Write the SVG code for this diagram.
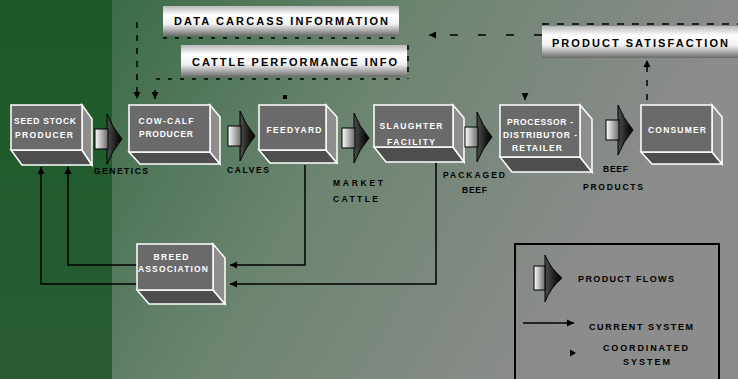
<svg xmlns="http://www.w3.org/2000/svg" width="738" height="379" viewBox="0 0 738 379">
<defs>
<linearGradient id="bgMain" gradientUnits="userSpaceOnUse" x1="112" y1="0" x2="580" y2="280">
<stop offset="0" stop-color="#3b6c47"/><stop offset="0.5" stop-color="#6d8571"/><stop offset="1" stop-color="#8b8c8b"/>
</linearGradient>
<linearGradient id="bgLeft" x1="0" y1="0" x2="0" y2="1">
<stop offset="0" stop-color="#1b5a27"/><stop offset="1" stop-color="#2a5c34"/>
</linearGradient>
<linearGradient id="bar" x1="0" y1="0" x2="0" y2="1">
<stop offset="0" stop-color="#b8b8b8"/><stop offset="0.3" stop-color="#ffffff"/><stop offset="0.6" stop-color="#f2f2f2"/><stop offset="1" stop-color="#6a6a6a"/>
</linearGradient>
<linearGradient id="fbox" x1="0" y1="0" x2="1" y2="0">
<stop offset="0" stop-color="#ffffff"/><stop offset="1" stop-color="#6a6a6a"/>
</linearGradient>
<linearGradient id="fhead" x1="0" y1="0" x2="1" y2="0">
<stop offset="0" stop-color="#505050"/><stop offset="0.6" stop-color="#1a1a1a"/><stop offset="1" stop-color="#000000"/>
</linearGradient>
<marker id="ah" markerUnits="userSpaceOnUse" markerWidth="8" markerHeight="8" refX="7" refY="4" orient="auto">
<path d="M0,0.5 L7,4 L0,7.5 Z" fill="#000"/>
</marker>
<g id="flow">
<path d="M12,-25 Q17,-12 27,0 Q17,12 12,25 Z" fill="url(#fhead)" stroke="#000" stroke-width="1"/>
<rect x="0" y="-10" width="13" height="20" fill="url(#fbox)" stroke="#000" stroke-width="1"/>
</g>
</defs>
<style>
.front{fill:#6a6a6a;stroke:#fff;stroke-width:1.5}
.side{fill:#8e8e8e;stroke:#fff;stroke-width:1.5}
.bot{fill:#4e4e4e;stroke:#fff;stroke-width:1.5}
.nt{font-family:"Liberation Sans",Arial,sans-serif;font-weight:bold;font-size:8.5px;fill:#fff;text-anchor:middle}
.lb{font-family:"Liberation Sans",Arial,sans-serif;font-weight:bold;font-size:8.5px;fill:#000}
.bt{font-family:"Liberation Sans",Arial,sans-serif;font-weight:bold;font-size:11px;fill:#000}
.lg{font-family:"Liberation Sans",Arial,sans-serif;font-weight:bold;font-size:9px;fill:#000}
.solid{fill:none;stroke:#000;stroke-width:1.5}
.dash{fill:none;stroke:#000;stroke-width:1.5}
.barr{fill:url(#bar)}
</style>
<rect x="0" y="0" width="738" height="379" fill="url(#bgMain)"/>
<rect x="0" y="0" width="112" height="379" fill="url(#bgLeft)"/>

<g id="connectors">
<path class="solid" d="M305,165 V265 H230" marker-end="url(#ah)"/>
<path class="solid" d="M436,162 V284 H230" marker-end="url(#ah)"/>
<path class="solid" d="M137,265 H68 V167" marker-end="url(#ah)"/>
<path class="solid" d="M137,284 H41 V167" marker-end="url(#ah)"/>
<path class="dash" d="M542,35 H429" stroke-dasharray="8 20" marker-end="url(#ah)"/>
<path class="dash" d="M542,24 H738" stroke-dasharray="7 8"/>
<path class="dash" d="M647,100 V60" stroke-dasharray="6 8" marker-end="url(#ah)"/>
<path class="dash" d="M163,38 H400" stroke-dasharray="4 8"/>
<path class="dash" d="M156,79 H408" stroke-dasharray="4 8"/>
<path class="dash" d="M408,45 V79" stroke-dasharray="5 6"/>
<path class="dash" d="M137,22 V99" stroke-dasharray="6 7" marker-end="url(#ah)"/>
<path class="dash" d="M155,90 V99" marker-end="url(#ah)"/>
<path class="dash" d="M525,93 V100" marker-end="url(#ah)"/>
<rect x="283" y="95" width="4" height="4" fill="#000"/>
</g>

<g id="bar-data">
<rect class="barr" x="163" y="6" width="236" height="30"/>
<text class="bt" x="174" y="25" textLength="214">DATA CARCASS INFORMATION</text>
</g>
<g id="bar-cattle">
<rect class="barr" x="181" y="45" width="226" height="32"/>
<text class="bt" x="192" y="66" textLength="205">CATTLE PERFORMANCE INFO</text>
</g>
<g id="bar-satisfaction">
<rect class="barr" x="542" y="26" width="200" height="32"/>
<text class="bt" x="552" y="47" textLength="176">PRODUCT SATISFACTION</text>
</g>

<g id="seed-stock">
<polygon class="bot" points="11,150 82,150 92,165 22,165"/>
<polygon class="side" points="82,105 92,119 92,165 82,150"/>
<rect class="front" x="11" y="105" width="71" height="45"/>
<text class="nt" x="45" y="124" textLength="62">SEED STOCK</text>
<text class="nt" x="44" y="138" textLength="58">PRODUCER</text>
</g>
<g id="cow-calf">
<polygon class="bot" points="129,152 210,152 220,164 140,164"/>
<polygon class="side" points="210,105 220,117 220,164 210,152"/>
<rect class="front" x="129" y="105" width="81" height="47"/>
<text class="nt" x="166" y="124" textLength="55">COW-CALF</text>
<text class="nt" x="166" y="137" textLength="54">PRODUCER</text>
</g>
<g id="feedyard">
<polygon class="bot" points="259,150 326,150 337,163 270,163"/>
<polygon class="side" points="326,105 337,117 337,163 326,150"/>
<rect class="front" x="259" y="105" width="67" height="45"/>
<text class="nt" x="294" y="133" textLength="55">FEEDYARD</text>
</g>
<g id="slaughter">
<polygon class="bot" points="374,147 453,147 464,162 386,162"/>
<polygon class="side" points="453,105 464,118 464,162 453,147"/>
<rect class="front" x="374" y="105" width="79" height="42"/>
<text class="nt" x="411" y="129" textLength="63">SLAUGHTER</text>
<text class="nt" x="411" y="144.5" textLength="48">FACILITY</text>
</g>
<g id="processor">
<polygon class="bot" points="500,157 580,157 592,172 512,172"/>
<polygon class="side" points="580,105 592,119 592,172 580,157"/>
<rect class="front" x="500" y="105" width="80" height="52"/>
<text class="nt" x="540" y="125" textLength="66">PROCESSOR -</text>
<text class="nt" x="540" y="137.5" textLength="74">DISTRIBUTOR -</text>
<text class="nt" x="537" y="150.5" textLength="50">RETAILER</text>
</g>
<g id="consumer">
<polygon class="bot" points="641,152 712,152 722,164 652,164"/>
<polygon class="side" points="712,105 722,117 722,164 712,152"/>
<rect class="front" x="641" y="105" width="71" height="47"/>
<text class="nt" x="677" y="133" textLength="58">CONSUMER</text>
</g>
<g id="breed">
<polygon class="bot" points="137,290 213,290 225,304 149,304"/>
<polygon class="side" points="213,244 225,258 225,304 213,290"/>
<rect class="front" x="137" y="244" width="76" height="46"/>
<text class="nt" x="171" y="260" textLength="35">BREED</text>
<text class="nt" x="173" y="271.5" textLength="70">ASSOCIATION</text>
</g>

<g id="flows">
<use href="#flow" x="95" y="139"/>
<use href="#flow" x="228" y="136"/>
<use href="#flow" x="342" y="138"/>
<use href="#flow" x="465" y="137"/>
<use href="#flow" x="606" y="130"/>
</g>

<g id="flow-labels">
<text class="lb" x="94" y="174" textLength="54">GENETICS</text>
<text class="lb" x="227" y="173" textLength="42">CALVES</text>
<text class="lb" x="333" y="186" textLength="50">MARKET</text>
<text class="lb" x="333" y="202" textLength="45">CATTLE</text>
<text class="lb" x="443" y="178" textLength="62">PACKAGED</text>
<text class="lb" x="462" y="193" textLength="25">BEEF</text>
<text class="lb" x="603" y="172" textLength="25">BEEF</text>
<text class="lb" x="583" y="190" textLength="60">PRODUCTS</text>
</g>

<g id="legend">
<rect x="515" y="244" width="204" height="145" fill="none" stroke="#000" stroke-width="2"/>
<path d="M545,255 Q550,268 562,278 Q550,288 545,302 Z" fill="url(#fhead)" stroke="#000" stroke-width="1"/>
<rect x="534" y="266" width="11" height="24" fill="url(#fbox)" stroke="#000" stroke-width="1"/>
<text class="lg" x="578" y="282" textLength="96">PRODUCT FLOWS</text>
<path class="solid" d="M523,323 H574" marker-end="url(#ah)"/>
<text class="lg" x="589" y="330" textLength="104">CURRENT SYSTEM</text>
<path d="M570,349.5 L576,353 L570,356.5 Z" fill="#000"/>
<text class="lg" x="603" y="351" textLength="85">COORDINATED</text>
<text class="lg" x="623" y="365" textLength="47">SYSTEM</text>
</g>
</svg>
